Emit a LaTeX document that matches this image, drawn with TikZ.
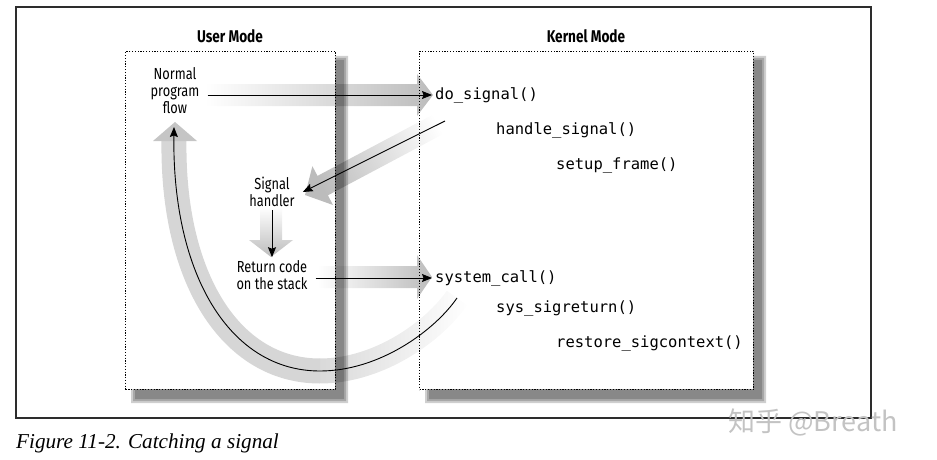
\documentclass[tikz,border=0pt]{standalone}
\usepackage{fontspec}
\setmainfont{Liberation Serif}
\newfontfamily\lblfont[FakeStretch=0.8]{Fira Sans}
\newfontfamily\codefont{DejaVu Sans Mono}
\newfontfamily\cjkfont{Noto Sans CJK SC}
\usetikzlibrary{arrows.meta,fadings}
\definecolor{arrgrey}{RGB}{188,188,188}
\definecolor{bandgrey}{RGB}{214,214,214}
\definecolor{framegrey}{RGB}{45,45,45}
\definecolor{markgrey}{RGB}{195,195,195}
\tikzfading[name=fadeR, left color=transparent!0, middle color=transparent!25, right color=transparent!100]
\begin{document}
\begin{tikzpicture}[x=1pt,y=-1pt,
  lbl/.style={font=\lblfont\fontsize{16}{17}\selectfont, align=center, inner xsep=8pt, inner ysep=3pt},
  modelbl/.style={font=\lblfont\bfseries\fontsize{17}{20}\selectfont, inner sep=2pt},
  code/.style={font=\codefont\fontsize{15.5}{18}\selectfont, anchor=west, inner sep=3pt},
  tarr/.style={line width=0.9pt, -{Stealth[length=10pt,width=8pt,inset=1.5pt]}},
  dotbox/.style={line width=1pt, dash pattern=on 1.2pt off 1.6pt},
  shadowpart/.style={black, opacity=0.19}
]
\useasboundingbox (0,0) rectangle (937,460);

% outer frame
\draw[framegrey, line width=1.2pt] (16,7) rectangle (871,418);

% fat grey arrows
\shade[left color=white, right color=arrgrey]
  (205,84) -- (417,84) -- (417,74) -- (433,95) -- (417,116) -- (417,106) -- (205,106) -- cycle;
\shade[left color=white, right color=arrgrey]
  (318,266) -- (417,266) -- (417,255) -- (432,277) -- (417,299) -- (417,288) -- (318,288) -- cycle;
\shade[top color=white, bottom color=arrgrey]
  (260,207) -- (282,207) -- (282,240) -- (293,240) -- (271,257) -- (249,240) -- (260,240) -- cycle;
\shade[top color=white, middle color=arrgrey!60, bottom color=arrgrey, shading angle=-62]
  (305,195) -- (312.4,166.2) -- (317.5,175.9) -- (445.5,107.9) -- (455.9,127.3)
  -- (327.9,195.3) -- (333.0,205.0) -- cycle;

% curved grey band
\draw[bandgrey, line width=25pt] (320,371) .. controls (230,371) and (172,277) .. (174,140);
\draw[bandgrey, line width=25pt, path fading=fadeR] (457,298) .. controls (435,330) and (380,371) .. (320,371);
\fill[bandgrey!92!black] (175,122) -- (197,141) -- (153,141) -- cycle;

% box shadows (L-shaped, soft)
\foreach \s in {-1,1,3} {
  \fill[shadowpart] (335,57+\s) -- (347-\s,57+\s) -- (347-\s,402-\s) -- (132+\s,402-\s) -- (132+\s,389) -- (335,389) -- cycle;
  \fill[shadowpart] (753,57+\s) -- (765-\s,57+\s) -- (765-\s,402-\s) -- (426+\s,402-\s) -- (426+\s,389) -- (753,389) -- cycle;
}

% dotted boxes
\node[dotbox, draw, inner sep=0pt, minimum width=210pt, minimum height=338pt, anchor=north west] (ubox) at (125,51) {};
\node[dotbox, draw, inner sep=0pt, minimum width=334pt, minimum height=338pt, anchor=north west] (kbox) at (419,51) {};

% headers
\node[modelbl] (ulabel) at (230,36) {User Mode};
\node[modelbl] (klabel) at (586,36) {Kernel Mode};

% user-mode texts
\node[lbl] (normal) at (175,91) {Normal\\program\\flow};
\node[lbl] (sighandler) at (272,192) {Signal\\handler};
\node[lbl] (retcode) at (272,275) {Return code\\on the stack};

% kernel-mode texts
\node[code] (dosig) at (432,95) {do\_signal()};
\node[code] (handle) at (493,130) {handle\_signal()};
\node[code] (setup) at (553,165) {setup\_frame()};
\node[code] (syscall) at (432,278) {system\_call()};
\node[code] (sigret) at (493,308) {sys\_sigreturn()};
\node[code] (restore) at (553,343) {restore\_sigcontext()};

% connectors
\coordinate (dstart) at (445,121);
\coordinate (cstart) at (457,298);
\coordinate (cbottom) at (320,371);
\coordinate (ctip) at (174,127);
\draw[tarr] (normal.east |- dosig.west) -- (dosig.west);
\draw[tarr] (dstart) -- (sighandler.east);
\draw[tarr] (sighandler.south) -- (retcode.north);
\draw[tarr] (retcode.east |- syscall.west) -- (syscall.west);
\draw[tarr] (cstart) .. controls (435,330) and (380,371) .. (cbottom)
  .. controls (230,371) and (172,275) .. (ctip);

% caption
\node[anchor=base west, inner sep=0pt, font=\itshape\fontsize{21.2}{25}\selectfont] (caption) at (16,448) {Figure 11-2. Catching a signal};

% watermark
\node[text=markgrey, inner sep=0pt, font=\cjkfont\fontsize{27}{30}\selectfont] (mark) at (813,422) {知乎 @Breath};
\end{tikzpicture}
\end{document}
